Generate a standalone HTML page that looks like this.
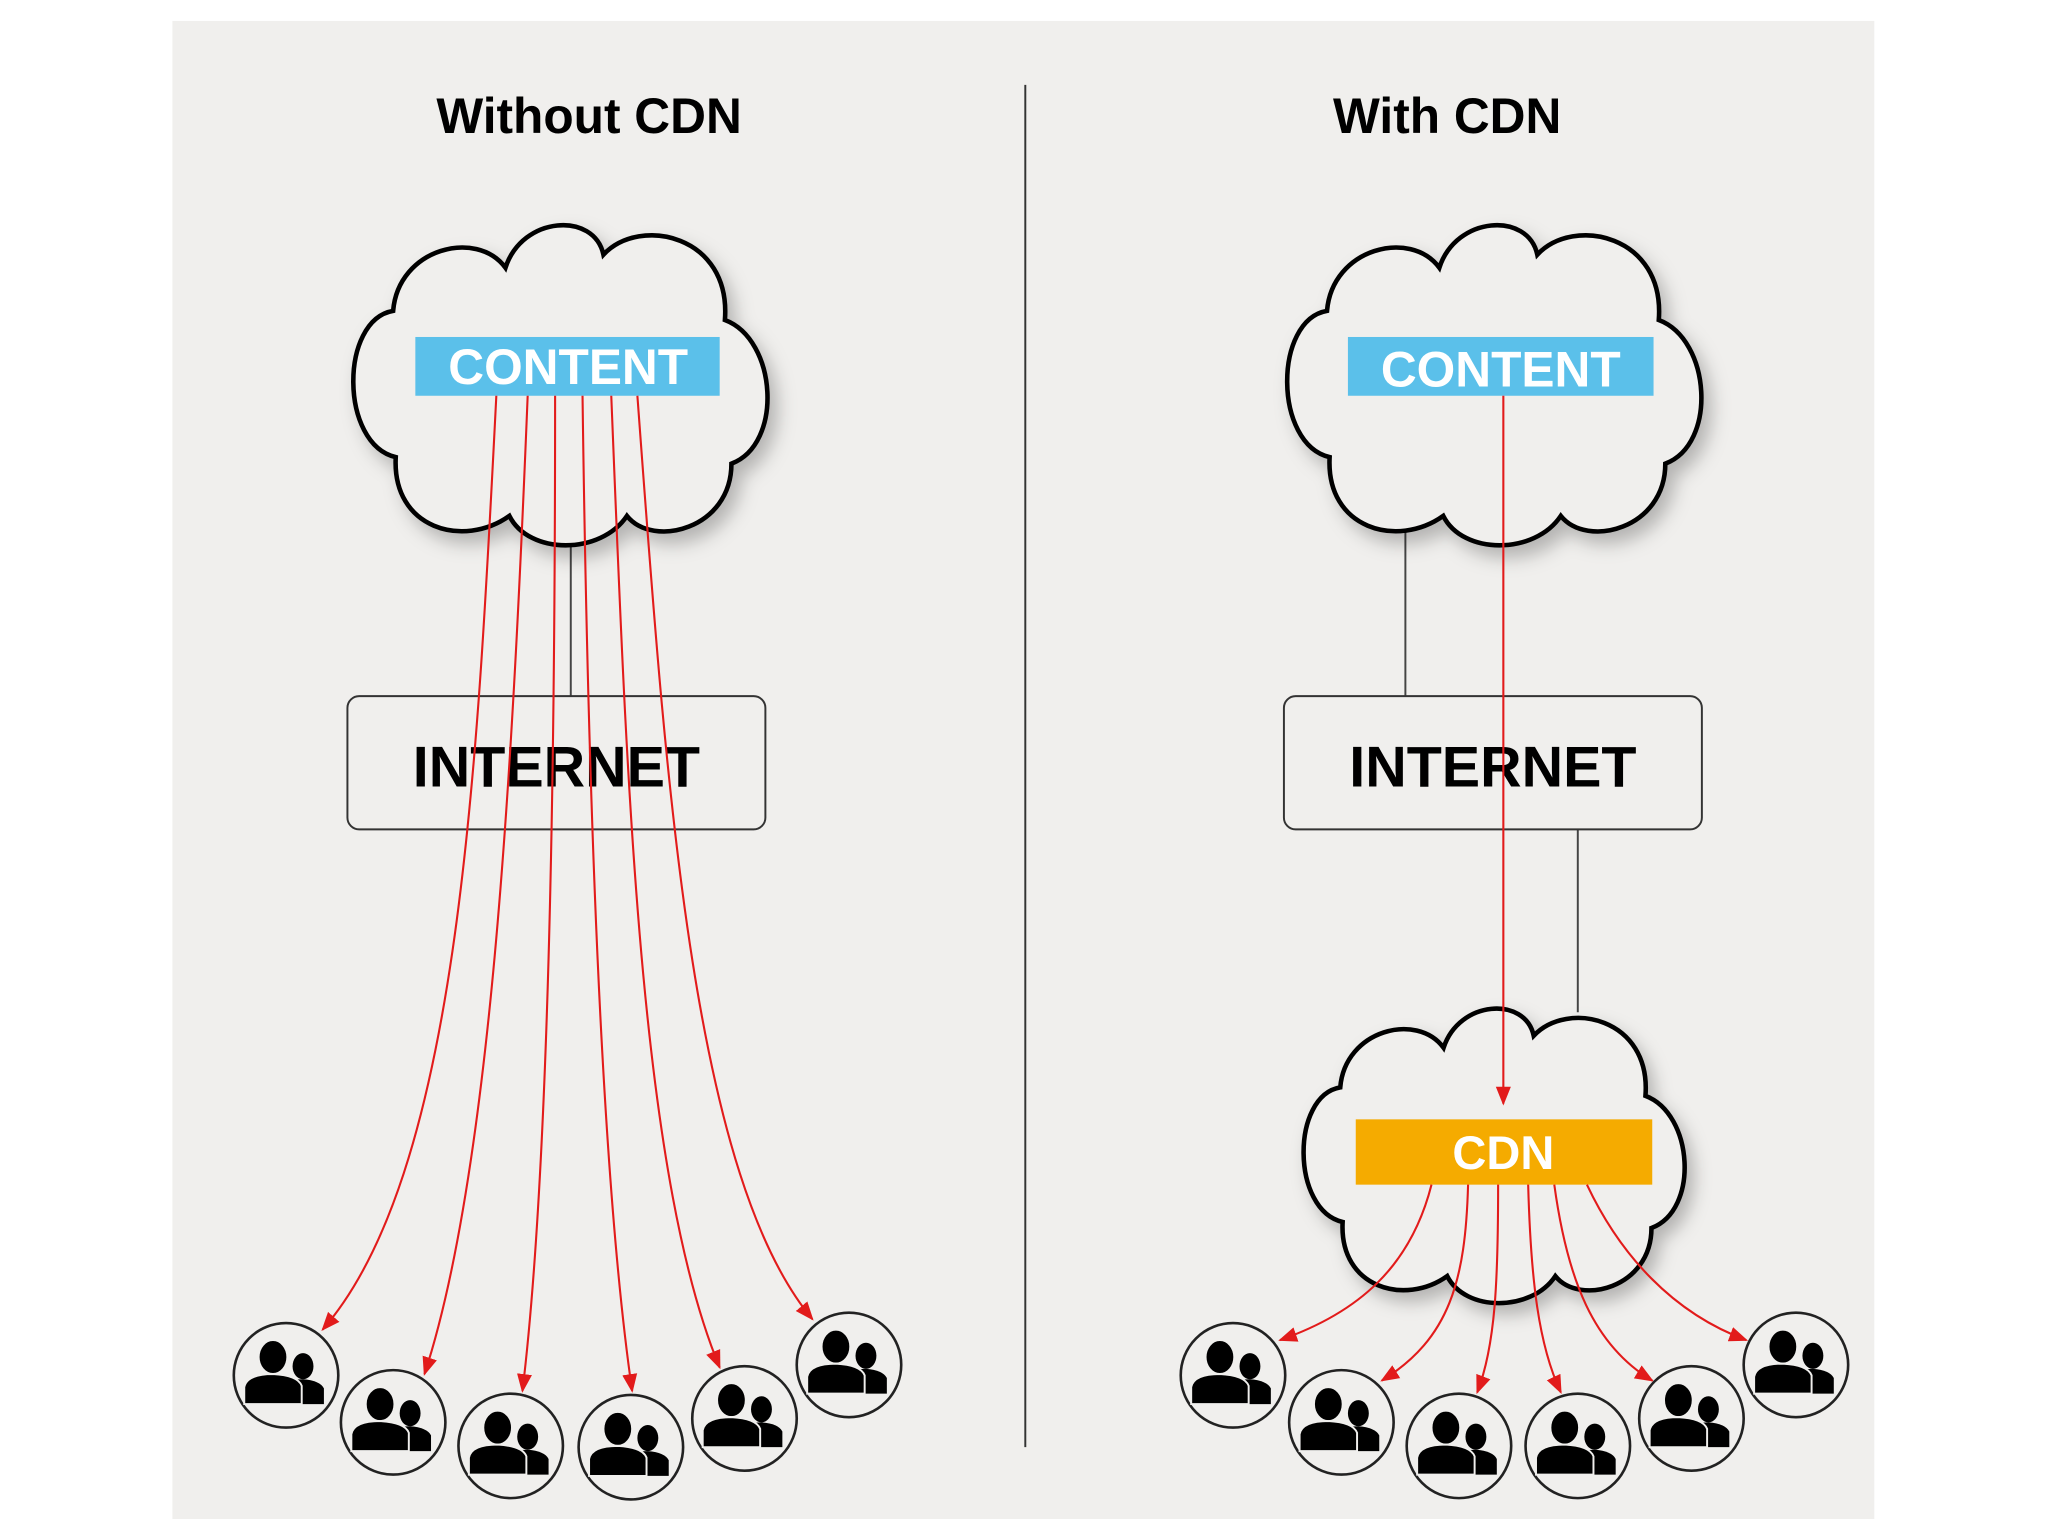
<!DOCTYPE html>
<html><head><meta charset="utf-8"><style>
html,body{margin:0;padding:0;background:#fff;}
svg{display:block}
text{font-family:"Liberation Sans",sans-serif;font-weight:bold}
</style></head><body>
<svg width="2048" height="1536" viewBox="0 0 1568 1176" xmlns="http://www.w3.org/2000/svg">
<defs>
<filter id="sh" x="-20%" y="-20%" width="140%" height="140%"><feDropShadow dx="6" dy="8" stdDeviation="7" flood-color="#000" flood-opacity="0.25"/></filter>
<path id="cloud" d="M36,68 C40,20 100,5 122,35 C135,-5 190,-8 197,25 C225,-5 295,10 290,75 C330,90 335,170 295,185 C295,235 235,250 215,225 C195,255 140,255 125,225 C90,250 35,235 38,180 C-5,170 -5,75 36,68 Z"/>
<marker id="ar" viewBox="0 0 10 10" refX="9" refY="5" markerWidth="9" markerHeight="9" orient="auto-start-reverse"><path d="M0,1 L10,5 L0,9 Z" fill="#e21b1b"/></marker>
<g id="user">
<circle r="40" fill="#f0efed" stroke="#222" stroke-width="2"/>
<ellipse cx="13" cy="-7" rx="8" ry="10" fill="#000"/>
<path d="M0,6 Q2,3 13,3 Q26,4 29,10 L29,22 L0,22 Z" fill="#000"/>
<ellipse cx="-10" cy="-14" rx="11" ry="13" fill="#000" stroke="#f0efed" stroke-width="1.5"/>
<path d="M-32,9 Q-30,-1 -10,-1 Q9,0 12,8 L12,22 L-32,22 Z" fill="#000" stroke="#f0efed" stroke-width="1.5"/>
</g>
</defs>
<rect x="132" y="16" width="1303" height="1147" fill="#f0efed"/>
<line x1="785" y1="65" x2="785" y2="1108" stroke="#333" stroke-width="1.5"/>
<text x="451" y="102" font-size="38" text-anchor="middle" fill="#000">Without CDN</text>
<text x="1108" y="102" font-size="38" text-anchor="middle" fill="#000">With CDN</text>

<line x1="437" y1="405" x2="437" y2="533" stroke="#444" stroke-width="1.5"/>
<line x1="1076" y1="395" x2="1076" y2="533" stroke="#444" stroke-width="1.5"/>
<line x1="1208" y1="635" x2="1208" y2="775" stroke="#444" stroke-width="1.5"/>

<use href="#cloud" transform="translate(265,170)" fill="#f0efed" stroke="#000" stroke-width="3.5" filter="url(#sh)"/>
<use href="#cloud" transform="translate(980,170)" fill="#f0efed" stroke="#000" stroke-width="3.5" filter="url(#sh)"/>
<use href="#cloud" transform="translate(993,770) scale(0.92,0.92)" fill="#f0efed" stroke="#000" stroke-width="3.8" filter="url(#sh)"/>

<rect x="318" y="258" width="233" height="45" fill="#5bc0ea"/>
<text x="435" y="294" font-size="38" text-anchor="middle" fill="#fff">CONTENT</text>
<rect x="1032" y="258" width="234" height="45" fill="#5bc0ea"/>
<text x="1149" y="296" font-size="38" text-anchor="middle" fill="#fff">CONTENT</text>

<rect x="266" y="533" width="320" height="102" rx="9" fill="#f0efed" stroke="#333" stroke-width="1.5"/>
<text x="426" y="602" font-size="44" text-anchor="middle" fill="#000">INTERNET</text>
<rect x="983" y="533" width="320" height="102" rx="9" fill="#f0efed" stroke="#333" stroke-width="1.5"/>
<text x="1143" y="602" font-size="44" text-anchor="middle" fill="#000">INTERNET</text>

<rect x="1038" y="857" width="227" height="50" fill="#f5ab00"/>
<text x="1151" y="895" font-size="36" text-anchor="middle" fill="#fff">CDN</text>

<g fill="none" stroke="#e21b1b" stroke-width="1.6" marker-end="url(#ar)">
<path d="M380,303 C365,600 350,900 247,1018"/>
<path d="M404,303 C392,600 375,900 325,1052"/>
<path d="M425,303 C425,600 420,900 400,1065"/>
<path d="M446,303 C450,600 460,900 484,1065"/>
<path d="M468,303 C480,600 490,900 551,1047"/>
<path d="M488,303 C510,600 530,900 622,1010"/>
<path d="M1151,303 L1151,845"/>
<path d="M1096,907 C1080,970 1040,1005 980,1026"/>
<path d="M1124,907 C1122,980 1110,1025 1058,1057"/>
<path d="M1147,907 C1147,980 1145,1030 1131,1066"/>
<path d="M1170,907 C1172,980 1178,1030 1195,1066"/>
<path d="M1190,907 C1200,980 1220,1030 1265,1057"/>
<path d="M1215,907 C1240,960 1280,1005 1337,1026"/>
</g>

<use href="#user" x="219" y="1053"/>
<use href="#user" x="301" y="1089"/>
<use href="#user" x="391" y="1107"/>
<use href="#user" x="483" y="1108"/>
<use href="#user" x="570" y="1086"/>
<use href="#user" x="650" y="1045"/>
<use href="#user" x="944" y="1053"/>
<use href="#user" x="1027" y="1089"/>
<use href="#user" x="1117" y="1107"/>
<use href="#user" x="1208" y="1107"/>
<use href="#user" x="1295" y="1086"/>
<use href="#user" x="1375" y="1045"/>
</svg>
</body></html>
